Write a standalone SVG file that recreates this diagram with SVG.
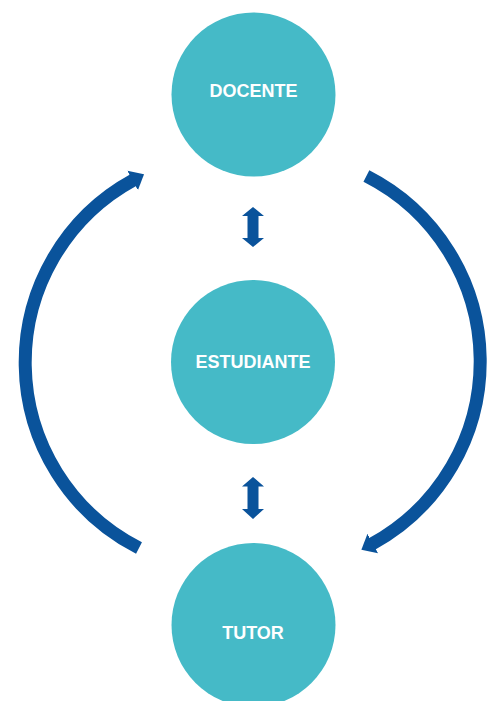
<svg xmlns="http://www.w3.org/2000/svg" width="495" height="701" viewBox="0 0 495 701">
  <style>
    .node { fill: #45BAC7; }
    .label { fill: #FFFFFF; font-family: "Liberation Sans", Arial, sans-serif; font-weight: bold; font-size: 18px; text-anchor: middle; }
    .arc { fill: none; stroke: #0A539B; stroke-width: 13; stroke-linecap: butt; }
    .dbl { fill: #0A539B; }
  </style>
  <defs>
    <marker id="head" markerUnits="userSpaceOnUse" markerWidth="16" markerHeight="26" refX="1" refY="11" orient="auto" viewBox="0 0 16 22">
      <path d="M0,0 L13,11 L0,22 Z" fill="#0A539B"/>
    </marker>
  </defs>
  <rect width="495" height="701" fill="#FFFFFF"/>
  <g id="connectors">
    <path class="arc" d="M139,548 A208,208 0 0 1 133.5,180" marker-end="url(#head)"/>
    <path class="arc" d="M366.4,176 A208,208 0 0 1 371.9,544" marker-end="url(#head)"/>
    <path class="dbl" d="M253,207 L264,216 L258.5,216 L258.5,238 L264,238 L253,247 L242,238 L247.5,238 L247.5,216 L242,216 Z"/>
    <path class="dbl" d="M253,477 L264,486.5 L258.5,486.5 L258.5,509 L264,509 L253,519 L242,509 L247.5,509 L247.5,486.5 L242,486.5 Z"/>
  </g>
  <g id="docente">
    <circle class="node" cx="253.5" cy="94.5" r="82"/>
    <text class="label" x="253.5" y="97">DOCENTE</text>
  </g>
  <g id="estudiante">
    <circle class="node" cx="253" cy="362" r="82"/>
    <text class="label" x="253" y="368">ESTUDIANTE</text>
  </g>
  <g id="tutor">
    <circle class="node" cx="253.5" cy="625" r="82"/>
    <text class="label" x="253" y="639">TUTOR</text>
  </g>
</svg>
